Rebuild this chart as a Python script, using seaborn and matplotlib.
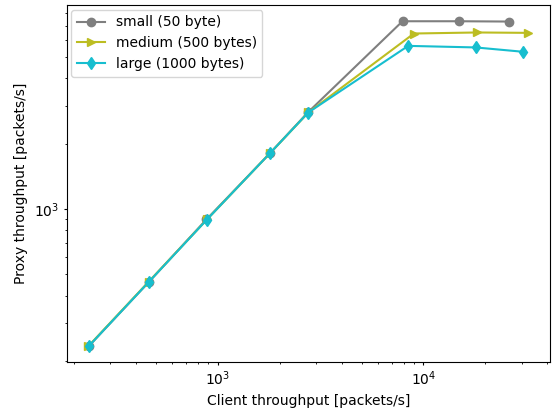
import matplotlib
matplotlib.use("Agg")
import matplotlib.pyplot as plt
import seaborn as sns
import pandas as pd

# Client throughput (x) and proxy throughput (y), packets/s
small_x = [236, 462, 881, 1798, 2753, 7910, 14810, 25980]
small_y = [234, 462, 897, 1814, 2800, 7337, 7337, 7313]
medium_x = [235, 462, 890, 1798, 2760, 8990, 18300, 32250]
medium_y = [234, 464, 900, 1814, 2790, 6442, 6513, 6486]
large_x = [236, 462, 885, 1798, 2753, 8430, 17950, 30380]
large_y = [234, 462, 895, 1814, 2786, 5650, 5557, 5309]

series = [
    ("small (50 byte)", small_x, small_y, "o", "#7f7f7f"),
    ("medium (500 bytes)", medium_x, medium_y, ">", "#bcbd22"),
    ("large (1000 bytes)", large_x, large_y, "d", "#17becf"),
]

plt.rcParams["xtick.major.size"] = 2.5
plt.rcParams["ytick.major.size"] = 2.5
plt.rcParams["xtick.minor.size"] = 1.5
plt.rcParams["ytick.minor.size"] = 1.5
plt.rcParams["xtick.major.pad"] = 2.8
plt.rcParams["ytick.major.pad"] = 2.8
plt.rcParams["xtick.minor.pad"] = 2.8
plt.rcParams["ytick.minor.pad"] = 2.8

fig = plt.figure(figsize=(5.55, 4.12), dpi=100)
ax = fig.add_axes([66.5 / 555, 1 - 362.3 / 412, (550 - 66.5) / 555, (362.3 - 5) / 412])

for label, xs, ys, mk, col in series:
    df = pd.DataFrame({"x": xs, "y": ys})
    sns.lineplot(data=df, x="x", y="y", ax=ax, marker=mk, color=col,
                 markersize=6, markeredgecolor=col, markeredgewidth=1,
                 linewidth=1.5, label=label, sort=False, estimator=None)

ax.set_xscale("log")
ax.set_yscale("log")
ax.set_xlabel("Client throughput [packets/s]")
ax.set_ylabel("Proxy throughput [packets/s]")
ax.legend(loc="upper left", borderaxespad=0.35)

fig.savefig("out.png", dpi=100)
